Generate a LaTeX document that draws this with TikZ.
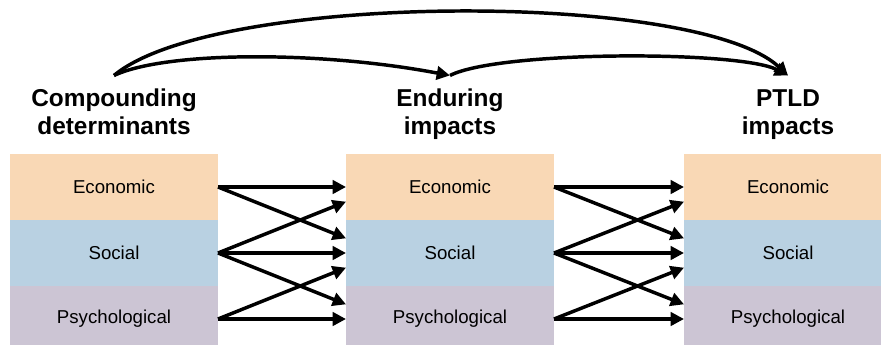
\documentclass[tikz,border=0pt]{standalone}
\usepackage{fontspec}
\setmainfont{Liberation Sans}
\usetikzlibrary{arrows.meta,calc,positioning}

\definecolor{econfill}{RGB}{249,216,181}
\definecolor{socfill}{RGB}{185,209,226}
\definecolor{psyfill}{RGB}{204,197,212}

\tikzset{
  layer/.style={minimum width=156pt, minimum height=49.5pt, inner sep=0pt, outer sep=0pt, font=\fontsize{14}{16}\selectfont},
  heading/.style={align=center, inner sep=0pt, font=\fontsize{18.3}{21}\selectfont\bfseries},
  link/.style={-{Triangle[length=10pt,width=10pt]}, line width=2.6pt},
}

\begin{document}
\begin{tikzpicture}[x=0.75pt,y=0.75pt]
    \useasboundingbox (0,0) rectangle (881,344);
    \clip (0,0) rectangle (881,344);

    % compounding determinants
    \node (econA)[layer, fill=econfill] at (114,157) {Economic};
    \node (socA)[layer, fill=socfill, below=0pt of econA] {Social};
    \node (psyA)[layer, fill=psyfill, below=0pt of socA] {Psychological};

    % enduring impacts
    \node (econB)[layer, fill=econfill, right=96pt of econA] {Economic};
    \node (socB)[layer, fill=socfill, below=0pt of econB] {Social};
    \node (psyB)[layer, fill=psyfill, below=0pt of socB] {Psychological};

    % PTLD impacts
    \node (econC)[layer, fill=econfill, right=97.5pt of econB] {Economic};
    \node (socC)[layer, fill=socfill, below=0pt of econC] {Social};
    \node (psyC)[layer, fill=psyfill, below=0pt of socC] {Psychological};

    \node (comp)[heading, above=8pt of econA] {\strut Compounding\\determinants\strut};
    \node (endur)[heading, above=8pt of econB] {\strut Enduring\\impacts\strut};
    \node (ptld)[heading, above=8pt of econC] {\strut PTLD\\impacts\strut};

    \coordinate (compTop) at ([yshift=8.5pt]comp.north);
    \coordinate (endTop) at ([yshift=8.5pt]endur.north);
    \coordinate (ptldTop) at ([yshift=8.5pt]ptld.north);

    % long-range links over the top
    \draw [link] (compTop) .. controls ($(compTop)+(51,24)$) and ($(endTop)+(-132,25)$) .. (endTop);
    \draw [link] (endTop) .. controls ($(endTop)+(49,25)$) and ($(ptldTop)+(-48,25)$) .. (ptldTop);
    \draw [link] (compTop) .. controls ($(compTop)+(100,84)$) and ($(ptldTop)+(-91,85)$) .. (ptldTop);

    % determinants -> enduring
    \draw [link] (econA.east) -- (econB.west);
    \draw [link] (econA.east) -- ([yshift=11pt]socB.west);
    \draw [link] (socA.east) -- ([yshift=-11pt]econB.west);
    \draw [link] (socA.east) -- (socB.west);
    \draw [link] (socA.east) -- ([yshift=11pt]psyB.west);
    \draw [link] (psyA.east) -- ([yshift=-11pt]socB.west);
    \draw [link] (psyA.east) -- (psyB.west);

    % enduring -> PTLD
    \draw [link] (econB.east) -- (econC.west);
    \draw [link] (econB.east) -- ([yshift=11pt]socC.west);
    \draw [link] (socB.east) -- ([yshift=-11pt]econC.west);
    \draw [link] (socB.east) -- (socC.west);
    \draw [link] (socB.east) -- ([yshift=11pt]psyC.west);
    \draw [link] (psyB.east) -- ([yshift=-11pt]socC.west);
    \draw [link] (psyB.east) -- (psyC.west);
\end{tikzpicture}
\end{document}
